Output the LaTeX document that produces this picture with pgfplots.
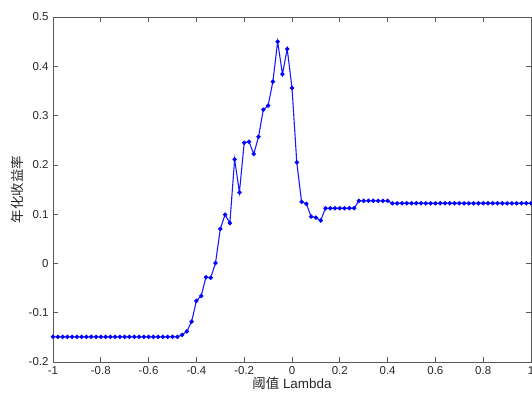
\documentclass[border=0pt]{standalone}
\usepackage{pgfplots}
\pgfplotsset{compat=1.18}
\usepackage{fontspec}
\setmainfont{Liberation Sans}
\newfontfamily\cjk{Noto Sans CJK SC}
\begin{document}
\begin{tikzpicture}
\begin{axis}[
  at={(0,0)}, anchor=south west,
  scale only axis,
  width=478bp, height=345bp,
  xmin=-1, xmax=1, ymin=-0.2, ymax=0.5,
  xtick={-1,-0.8,...,1.01},
  ytick={-0.2,-0.1,...,0.51},
  tick align=inside,
  major tick length=5bp,
  axis line style={black!65, line width=0.7bp},
  every tick/.style={black!65, line width=0.7bp},
  tick label style={font=\fontsize{11.5}{13}\selectfont, text=black!85},
  /pgf/number format/assume math mode=true,
  /pgf/number format/fixed,
  /pgf/number format/precision=2,
  xticklabel style={yshift=-1bp},
  yticklabel style={xshift=-1bp},
  xlabel={{\cjk 阈值} Lambda},
  ylabel={\cjk 年化收益率},
  label style={font=\fontsize{13.5}{15}\selectfont, text=black!85},
  xlabel style={yshift=4bp},
  ylabel style={yshift=-2bp},
  clip=false,
]
\addplot[blue!90!white, line width=1.1bp, mark=*, mark size=1.6bp, mark options={fill=blue, draw=blue}] coordinates {
(-1.00,-0.149)(-0.98,-0.149)(-0.96,-0.149)(-0.94,-0.149)(-0.92,-0.149)(-0.90,-0.149)
(-0.88,-0.149)(-0.86,-0.149)(-0.84,-0.149)(-0.82,-0.149)(-0.80,-0.149)(-0.78,-0.149)
(-0.76,-0.149)(-0.74,-0.149)(-0.72,-0.149)(-0.70,-0.149)(-0.68,-0.149)(-0.66,-0.149)
(-0.64,-0.149)(-0.62,-0.149)(-0.60,-0.149)(-0.58,-0.149)(-0.56,-0.149)(-0.54,-0.149)
(-0.52,-0.149)(-0.50,-0.149)(-0.48,-0.149)
(-0.46,-0.145)(-0.44,-0.138)(-0.42,-0.118)(-0.40,-0.076)(-0.38,-0.066)(-0.36,-0.028)
(-0.34,-0.029)(-0.32,0.001)(-0.30,0.070)(-0.28,0.099)(-0.26,0.082)(-0.24,0.211)
(-0.22,0.144)(-0.20,0.245)(-0.18,0.247)(-0.16,0.222)(-0.14,0.257)(-0.12,0.312)
(-0.10,0.320)(-0.08,0.369)(-0.06,0.450)(-0.04,0.384)(-0.02,0.435)(0.00,0.356)
(0.02,0.205)(0.04,0.125)(0.06,0.121)(0.08,0.095)(0.10,0.093)(0.12,0.087)
(0.14,0.112)(0.16,0.112)(0.18,0.112)(0.20,0.112)(0.22,0.112)(0.24,0.112)(0.26,0.112)
(0.28,0.127)(0.30,0.127)(0.32,0.127)(0.34,0.127)(0.36,0.127)(0.38,0.127)(0.40,0.127)
(0.42,0.122)(0.44,0.122)(0.46,0.122)(0.48,0.122)(0.50,0.122)(0.52,0.122)(0.54,0.122)
(0.56,0.122)(0.58,0.122)(0.60,0.122)(0.62,0.122)(0.64,0.122)(0.66,0.122)(0.68,0.122)
(0.70,0.122)(0.72,0.122)(0.74,0.122)(0.76,0.122)(0.78,0.122)(0.80,0.122)(0.82,0.122)
(0.84,0.122)(0.86,0.122)(0.88,0.122)(0.90,0.122)(0.92,0.122)(0.94,0.122)(0.96,0.122)
(0.98,0.122)(1.00,0.122)
};
\end{axis}
\pgfresetboundingbox
\path[use as bounding box] (-53bp,-34bp) rectangle (479bp,362bp);
\end{tikzpicture}
\end{document}
